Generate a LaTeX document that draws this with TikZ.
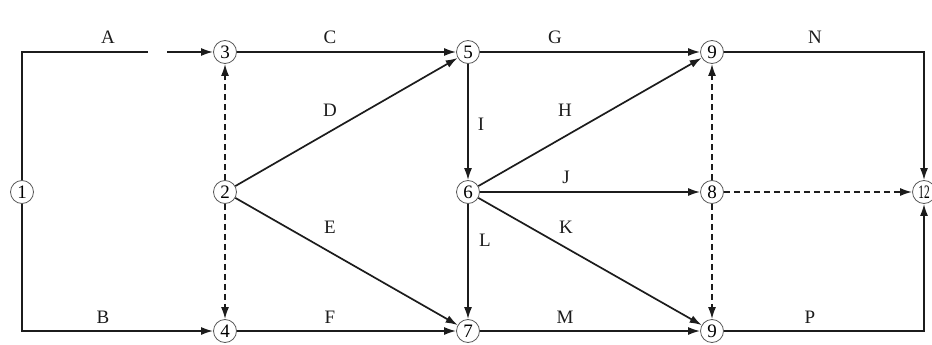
\documentclass[tikz,border=0pt]{standalone}
\usepackage{fontspec}
\setmainfont{Liberation Serif}
\usetikzlibrary{positioning, arrows.meta, calc}
\definecolor{netLine}  {HTML}{1C1C1C}
\definecolor{netCircle}{HTML}{5A5A5A}

\tikzset{
  event/.style={circle, draw=netCircle, line width=0.8pt, fill=white,
    inner sep=0pt, minimum size=23pt, font=\fontsize{19}{19}\selectfont},
  act/.style={draw=netLine, line width=1.7pt, -{Latex[length=12pt,width=8pt]}},
  plain/.style={draw=netLine, line width=1.7pt},
  dummy/.style={act, dash pattern=on 6pt off 4pt},
  lbl/.style={font=\fontsize{19}{19}\selectfont, text=netLine},
}

\begin{document}
\begin{tikzpicture}[x=1pt, y=-1pt]
  \useasboundingbox (0,0) rectangle (932,345);
  % event nodes
  \foreach \n/\x/\y/\t in
    {n1/22/192/1, n2/225/192/2, n3/225/52/3, n4/225/331/4,
     n5/468/52/5, n6/468/192/6, n7/468/331/7,
     n9a/712/52/9, n8/712/192/8, n9b/712/331/9}{
    \node[event] (\n) at (\x,\y) {\t};
  }
  \node[event] (n12) at (924,192) {\scalebox{0.6}[1]{12}};

  % activity A runs along the top with a break before 3
  \coordinate (aBreak) at (148,52);
  \coordinate (aResume) at (167,52);
  \draw[plain] (n1) |- (aBreak);
  \draw[act] (aResume) -- (n3);
  \draw[act] (n1) |- (n4);

  % real activities
  \foreach \s/\e in {n3/n5, n2/n5, n2/n7, n4/n7, n5/n9a, n6/n9a,
                     n5/n6, n6/n8, n6/n9b, n6/n7, n7/n9b}{
    \draw[act] (\s) -- (\e);
  }
  \draw[act] (n9a) -| (n12);
  \draw[act] (n9b) -| (n12);

  % dummy activities
  \foreach \s/\e in {n2/n3, n2/n4, n8/n9a, n8/n9b, n8/n12}{
    \draw[dummy] (\s) -- (\e);
  }

  % activity labels
  \foreach \n/\x/\y/\t in
    {lA/108/37/A, lB/103/317/B, lC/330/37/C, lD/330/110/D,
     lE/330/227/E, lF/330/317/F, lG/555/37/G, lH/565/110/H,
     lI/481/124/I, lJ/566/177/J, lK/566/227/K, lL/485/240/L,
     lM/565/317/M, lN/815/37/N, lP/810/317/P}{
    \node[lbl] (\n) at (\x,\y) {\t};
  }
\end{tikzpicture}
\end{document}
